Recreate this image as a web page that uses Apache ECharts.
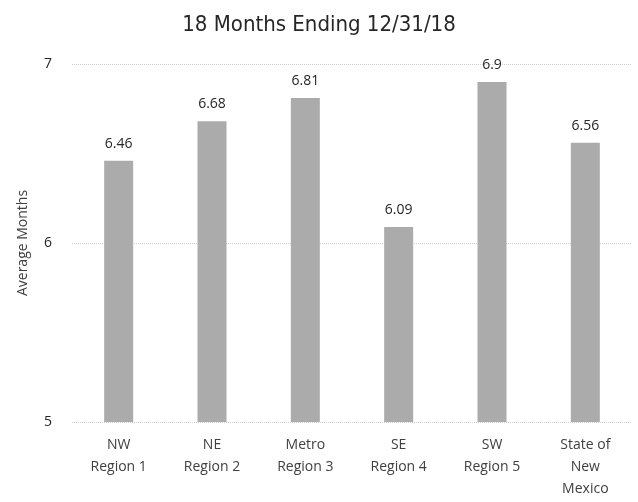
<!DOCTYPE html>
<html>
<head>
<meta charset="utf-8">
<script src="https://cdn.jsdelivr.net/npm/echarts@6/dist/echarts.min.js"></script>
<style>
  html, body { margin: 0; padding: 0; background: #fff; }
  #main { width: 638px; height: 502px; }
</style>
</head>
<body>
<div id="main"></div>
<script>
const categories = [
  "NW\nRegion 1",
  "NE\nRegion 2",
  "Metro\nRegion 3",
  "SE\nRegion 4",
  "SW\nRegion 5",
  "State of\nNew\nMexico",
];
const averageMonths = [6.46, 6.68, 6.81, 6.09, 6.9, 6.56];

const chart = echarts.init(document.getElementById("main"));

const textFont = "Open Sans";

chart.setOption({
  animation: false,
  title: {
    text: "18 Months Ending 12/31/18",
    left: "center",
    top: 9,
    textStyle: {
      fontFamily: "Liberation Sans Narrow, DejaVu Sans Condensed",
      fontSize: 22,
      fontWeight: "normal",
      color: "#262626",
    },
  },
  grid: { left: 72, right: 6, top: 64, bottom: 80 },
  xAxis: {
    type: "category",
    data: categories,
    axisLine: { show: false },
    axisTick: { show: false },
    axisLabel: {
      fontFamily: textFont,
      fontSize: 14,
      color: "#404040",
      lineHeight: 22,
      margin: 12,
    },
  },
  yAxis: {
    type: "value",
    min: 5,
    max: 7,
    interval: 1,
    name: "Average Months",
    nameLocation: "middle",
    nameGap: 42,
    nameTextStyle: { fontFamily: textFont, fontSize: 14, color: "#404040" },
    axisLabel: { fontFamily: textFont, fontSize: 14, color: "#262626", margin: 20 },
    splitLine: { lineStyle: { color: "#d0d0d0", type: "dotted", width: 1 } },
  },
  series: [
    {
      type: "bar",
      data: averageMonths,
      barWidth: 29,
      itemStyle: { color: "#ababab" },
      label: {
        show: true,
        position: "top",
        distance: 10,
        fontFamily: textFont,
        fontSize: 14,
        color: "#262626",
      },
    },
  ],
});
</script>
</body>
</html>
